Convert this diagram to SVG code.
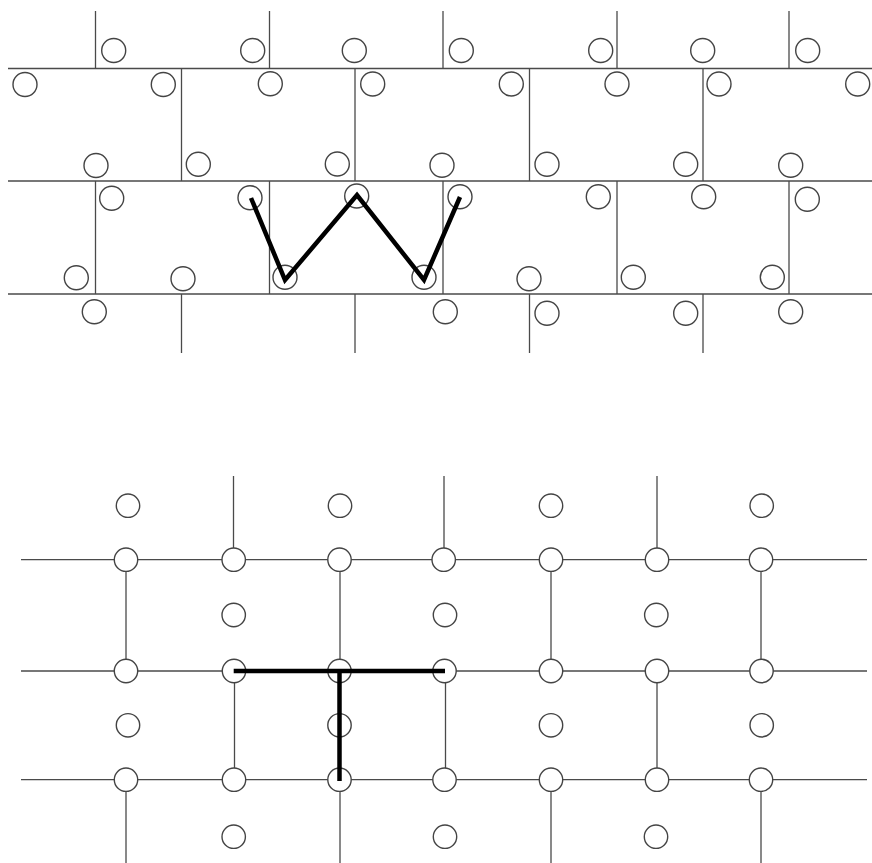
<svg xmlns="http://www.w3.org/2000/svg" width="872" height="863" viewBox="0 0 872 863">
<style>
.ln{stroke:#4a4a4a;stroke-width:1.3;fill:none}
.nd{fill:#fff;stroke:#444;stroke-width:1.4}
.thick{stroke:#000;stroke-width:4.5;fill:none;stroke-linejoin:miter}
</style>
<rect width="872" height="863" fill="#fff"/>
<g id="connectors" class="ln">
<line x1="8" y1="68.5" x2="872" y2="68.5"/>
<line x1="8" y1="181" x2="872" y2="181"/>
<line x1="8" y1="294" x2="872" y2="294"/>
<line x1="95.5" y1="11" x2="95.5" y2="68.5"/>
<line x1="269.5" y1="11" x2="269.5" y2="68.5"/>
<line x1="443" y1="11" x2="443" y2="68.5"/>
<line x1="617" y1="11" x2="617" y2="68.5"/>
<line x1="789" y1="11" x2="789" y2="68.5"/>
<line x1="181.5" y1="68.5" x2="181.5" y2="181"/>
<line x1="355" y1="68.5" x2="355" y2="181"/>
<line x1="529.5" y1="68.5" x2="529.5" y2="181"/>
<line x1="703" y1="68.5" x2="703" y2="181"/>
<line x1="95.5" y1="181" x2="95.5" y2="294"/>
<line x1="269.5" y1="181" x2="269.5" y2="294"/>
<line x1="443" y1="181" x2="443" y2="294"/>
<line x1="617" y1="181" x2="617" y2="294"/>
<line x1="789" y1="181" x2="789" y2="294"/>
<line x1="181.5" y1="294" x2="181.5" y2="353"/>
<line x1="355" y1="294" x2="355" y2="353"/>
<line x1="529.5" y1="294" x2="529.5" y2="353"/>
<line x1="703" y1="294" x2="703" y2="353"/>
<line x1="21" y1="559.7" x2="867" y2="559.7"/>
<line x1="21" y1="671" x2="867" y2="671"/>
<line x1="21" y1="779.7" x2="867" y2="779.7"/>
<line x1="233.5" y1="476" x2="233.5" y2="559.7"/>
<line x1="444" y1="476" x2="444" y2="559.7"/>
<line x1="657" y1="476" x2="657" y2="559.7"/>
<line x1="126" y1="559.7" x2="126" y2="671"/>
<line x1="340" y1="559.7" x2="340" y2="671"/>
<line x1="551" y1="559.7" x2="551" y2="671"/>
<line x1="761" y1="559.7" x2="761" y2="671"/>
<line x1="234.5" y1="671" x2="234.5" y2="779.7"/>
<line x1="445.5" y1="671" x2="445.5" y2="779.7"/>
<line x1="657" y1="671" x2="657" y2="779.7"/>
<line x1="126" y1="779.7" x2="126" y2="863"/>
<line x1="340" y1="779.7" x2="340" y2="863"/>
<line x1="551" y1="779.7" x2="551" y2="863"/>
<line x1="761" y1="779.7" x2="761" y2="863"/>
</g>
<g id="top-nodes">
<g id="t0a"><circle class="nd" cx="113.7" cy="50.5" r="12"/></g>
<g id="t0b"><circle class="nd" cx="252.7" cy="50.5" r="12"/></g>
<g id="t0c"><circle class="nd" cx="354.3" cy="50.5" r="12"/></g>
<g id="t0d"><circle class="nd" cx="461.3" cy="50.5" r="12"/></g>
<g id="t0e"><circle class="nd" cx="600.7" cy="50.5" r="12"/></g>
<g id="t0f"><circle class="nd" cx="702.7" cy="50.5" r="12"/></g>
<g id="t0g"><circle class="nd" cx="807.7" cy="50.5" r="12"/></g>
<g id="t1a"><circle class="nd" cx="25" cy="84.5" r="12"/></g>
<g id="t1b"><circle class="nd" cx="163.3" cy="84.5" r="12"/></g>
<g id="t1c"><circle class="nd" cx="270.3" cy="83.7" r="12"/></g>
<g id="t1d"><circle class="nd" cx="372.7" cy="84" r="12"/></g>
<g id="t1e"><circle class="nd" cx="511.3" cy="84" r="12"/></g>
<g id="t1f"><circle class="nd" cx="617" cy="84" r="12"/></g>
<g id="t1g"><circle class="nd" cx="719" cy="84" r="12"/></g>
<g id="t1h"><circle class="nd" cx="857.7" cy="84" r="12"/></g>
<g id="t2a"><circle class="nd" cx="96" cy="165.5" r="12"/></g>
<g id="t2b"><circle class="nd" cx="198.3" cy="164.3" r="12"/></g>
<g id="t2c"><circle class="nd" cx="337.3" cy="164" r="12"/></g>
<g id="t2d"><circle class="nd" cx="442" cy="165.3" r="12"/></g>
<g id="t2e"><circle class="nd" cx="547" cy="164.3" r="12"/></g>
<g id="t2f"><circle class="nd" cx="685.7" cy="164.3" r="12"/></g>
<g id="t2g"><circle class="nd" cx="790.7" cy="165.3" r="12"/></g>
<g id="t3a"><circle class="nd" cx="111.7" cy="198.3" r="12"/></g>
<g id="t3b"><circle class="nd" cx="250" cy="197.7" r="12"/></g>
<g id="t3c"><circle class="nd" cx="356.7" cy="196" r="12"/></g>
<g id="t3d"><circle class="nd" cx="460" cy="196.7" r="12"/></g>
<g id="t3e"><circle class="nd" cx="598.3" cy="196.7" r="12"/></g>
<g id="t3f"><circle class="nd" cx="703.7" cy="196.7" r="12"/></g>
<g id="t3g"><circle class="nd" cx="807.3" cy="199.3" r="12"/></g>
<g id="t4a"><circle class="nd" cx="76.3" cy="277.7" r="12"/></g>
<g id="t4b"><circle class="nd" cx="183" cy="278.7" r="12"/></g>
<g id="t4c"><circle class="nd" cx="285" cy="277.3" r="12"/></g>
<g id="t4d"><circle class="nd" cx="424" cy="277.3" r="12"/></g>
<g id="t4e"><circle class="nd" cx="529" cy="278.7" r="12"/></g>
<g id="t4f"><circle class="nd" cx="633.3" cy="277.3" r="12"/></g>
<g id="t4g"><circle class="nd" cx="772.3" cy="277.3" r="12"/></g>
<g id="t5a"><circle class="nd" cx="94.3" cy="311.7" r="12"/></g>
<g id="t5b"><circle class="nd" cx="445.3" cy="311.7" r="12"/></g>
<g id="t5c"><circle class="nd" cx="547" cy="313.3" r="12"/></g>
<g id="t5d"><circle class="nd" cx="685.7" cy="313.3" r="12"/></g>
<g id="t5e"><circle class="nd" cx="790.7" cy="311.7" r="12"/></g>
</g>
<g id="bottom-nodes">
<g id="b0a"><circle class="nd" cx="128" cy="505.7" r="11.7"/></g>
<g id="b0b"><circle class="nd" cx="340" cy="505.7" r="11.7"/></g>
<g id="b0c"><circle class="nd" cx="551" cy="505.7" r="11.7"/></g>
<g id="b0d"><circle class="nd" cx="761.7" cy="505.7" r="11.7"/></g>
<g id="b1a"><circle class="nd" cx="126" cy="559.7" r="11.7"/></g>
<g id="b1b"><circle class="nd" cx="233.7" cy="559.7" r="11.7"/></g>
<g id="b1c"><circle class="nd" cx="339.5" cy="559.7" r="11.7"/></g>
<g id="b1d"><circle class="nd" cx="443.7" cy="559.7" r="11.7"/></g>
<g id="b1e"><circle class="nd" cx="551" cy="559.7" r="11.7"/></g>
<g id="b1f"><circle class="nd" cx="657" cy="559.7" r="11.7"/></g>
<g id="b1g"><circle class="nd" cx="761" cy="559.7" r="11.7"/></g>
<g id="b2a"><circle class="nd" cx="233.7" cy="615" r="11.7"/></g>
<g id="b2b"><circle class="nd" cx="445" cy="615" r="11.7"/></g>
<g id="b2c"><circle class="nd" cx="656.3" cy="615" r="11.7"/></g>
<g id="b3a"><circle class="nd" cx="126" cy="671" r="11.7"/></g>
<g id="b3b"><circle class="nd" cx="234" cy="671" r="11.7"/></g>
<g id="b3c"><circle class="nd" cx="339.5" cy="671" r="11.7"/></g>
<g id="b3d"><circle class="nd" cx="444.5" cy="671" r="11.7"/></g>
<g id="b3e"><circle class="nd" cx="551" cy="671" r="11.7"/></g>
<g id="b3f"><circle class="nd" cx="657" cy="671" r="11.7"/></g>
<g id="b3g"><circle class="nd" cx="761.5" cy="671" r="11.7"/></g>
<g id="b4a"><circle class="nd" cx="128" cy="725.3" r="11.7"/></g>
<g id="b4b"><circle class="nd" cx="339.5" cy="725.3" r="11.7"/></g>
<g id="b4c"><circle class="nd" cx="551" cy="725.3" r="11.7"/></g>
<g id="b4d"><circle class="nd" cx="761.7" cy="725.3" r="11.7"/></g>
<g id="b5a"><circle class="nd" cx="126" cy="779.7" r="11.7"/></g>
<g id="b5b"><circle class="nd" cx="234" cy="779.7" r="11.7"/></g>
<g id="b5c"><circle class="nd" cx="339.5" cy="779.7" r="11.7"/></g>
<g id="b5d"><circle class="nd" cx="444.5" cy="779.7" r="11.7"/></g>
<g id="b5e"><circle class="nd" cx="551" cy="779.7" r="11.7"/></g>
<g id="b5f"><circle class="nd" cx="657" cy="779.7" r="11.7"/></g>
<g id="b5g"><circle class="nd" cx="761" cy="779.7" r="11.7"/></g>
<g id="b6a"><circle class="nd" cx="233.7" cy="836.7" r="11.7"/></g>
<g id="b6b"><circle class="nd" cx="445" cy="836.7" r="11.7"/></g>
<g id="b6c"><circle class="nd" cx="656" cy="836.7" r="11.7"/></g>
</g>
<g id="paths">
<polyline class="thick" points="251,198 285,280 357,195 424,280 460,197"/>
<line class="thick" x1="233.7" y1="671" x2="445" y2="671"/>
<line class="thick" x1="339.5" y1="671" x2="339.5" y2="781"/>
</g>
</svg>
